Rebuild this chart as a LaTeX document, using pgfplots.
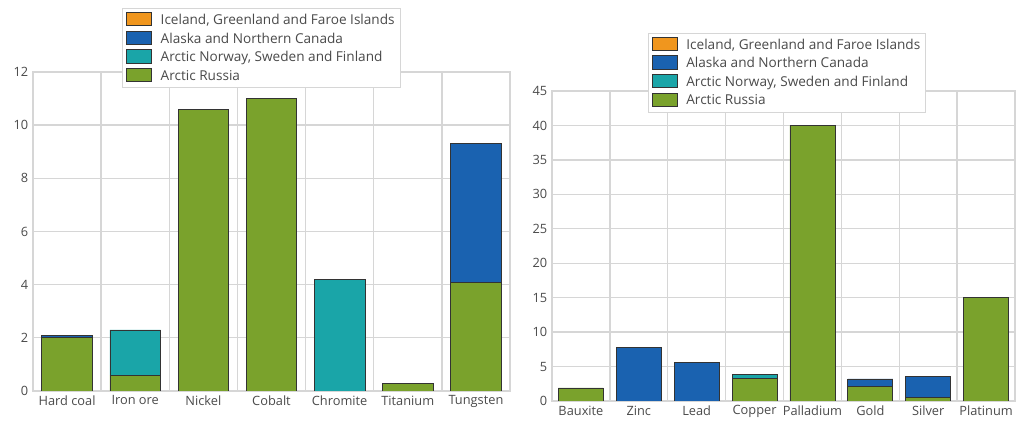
\documentclass[border=0pt]{standalone}
\usepackage{fontspec}
\setmainfont{Open Sans}
\usepackage{pgfplots}
\usepackage{pgfplotstable}
\pgfplotsset{compat=1.18}
\definecolor{cIce}{HTML}{F0961E}
\definecolor{cAla}{HTML}{1A62B0}
\definecolor{cNor}{HTML}{1AA5A8}
\definecolor{cRus}{HTML}{7AA22C}
\definecolor{edge}{HTML}{333333}
\definecolor{gridc}{HTML}{D6D6D6}
\definecolor{txt}{HTML}{4A4A4A}

\pgfplotstableread{
x rus nor ala
0 2.0 0 0.1
1 0.6 1.7 0
2 10.6 0 0
3 11.0 0 0
4 0 4.2 0
5 0.3 0 0
6 4.1 0 5.2
}\lefttab

\pgfplotstableread{
x rus nor ala
0 1.9 0 0
1 0 0 7.8
2 0 0 5.6
3 3.3 0.5 0
4 40 0 0
5 2.1 0 1.1
6 0.5 0 3.1
7 15 0 0
}\righttab

\pgfplotsset{
  mychart/.style={
    scale only axis,
    ybar stacked,
    ymin=0,
    axis line style={gridc, line width=1pt},
    ymajorgrids, xminorgrids,
    grid style={gridc, line width=1pt},
    minor grid style={gridc, line width=1pt},
    major tick length=0pt, minor tick length=0pt,
    tick style={draw=none},
    xtick=data,
    ticklabel style={font=\fontsize{9.6}{10}\selectfont, text=txt},
    /pgf/number format/assume math mode=true,
    every axis plot/.append style={draw=edge, line width=0.5pt},
    legend image code/.code={\draw[#1,draw=edge,line width=0.5pt] (0pt,-4pt) rectangle (19pt,6pt);},
    legend cell align=left,
    legend style={draw=gridc, fill=white, line width=0.6pt, font=\fontsize{10.2}{11}\selectfont, text=txt,
      row sep=1.5pt, column sep=5pt, inner sep=2.5pt, nodes={inner sep=1.6pt}},
  }
}

\begin{document}
\begin{tikzpicture}
\useasboundingbox (0,0) rectangle (767.25pt,317.25pt);
\begin{axis}[mychart,
  at={(24.75pt,24pt)}, anchor=south west,
  width=357.75pt, height=239.25pt,
  xmin=-0.5, xmax=6.5, ymax=12,
  ytick={0,2,...,12},
  minor xtick={0.5,1.5,...,5.5},
  xticklabels={Hard coal,Iron ore,Nickel,Cobalt,Chromite,Titanium,Tungsten},
  bar width=38pt,
  legend style={at={(0.187,1.2)}, anchor=north west},
]
\addlegendimage{fill=cIce}
\addlegendimage{fill=cAla}
\addlegendimage{fill=cNor}
\addlegendimage{fill=cRus}
\addplot[fill=cRus, forget plot] table[x=x,y=rus]{\lefttab};
\addplot[fill=cNor, forget plot] table[x=x,y=nor]{\lefttab};
\addplot[fill=cAla, forget plot] table[x=x,y=ala]{\lefttab};
\legend{{Iceland, Greenland and Faroe Islands},{Alaska and Northern Canada},{Arctic Norway, Sweden and Finland},{Arctic Russia}}
\node[anchor=west, font=\fontsize{9.8}{10}\selectfont, text=txt, inner sep=0pt] at (rel axis cs:-0.048,1.085) {Per cent};
\end{axis}
\begin{axis}[mychart,
  at={(414pt,16.5pt)}, anchor=south west,
  width=347.25pt, height=232.5pt,
  xmin=-0.5, xmax=7.5, ymax=45,
  ytick={0,5,...,45},
  minor xtick={0.5,1.5,...,6.5},
  xticklabels={Bauxite,Zinc,Lead,Copper,Palladium,Gold,Silver,Platinum},
  bar width=33.75pt,
  legend style={at={(0.207,1.187)}, anchor=north west},
]
\addlegendimage{fill=cIce}
\addlegendimage{fill=cAla}
\addlegendimage{fill=cNor}
\addlegendimage{fill=cRus}
\addplot[fill=cRus, forget plot] table[x=x,y=rus]{\righttab};
\addplot[fill=cNor, forget plot] table[x=x,y=nor]{\righttab};
\addplot[fill=cAla, forget plot] table[x=x,y=ala]{\righttab};
\legend{{Iceland, Greenland and Faroe Islands},{Alaska and Northern Canada},{Arctic Norway, Sweden and Finland},{Arctic Russia}}
\node[anchor=west, font=\fontsize{9.8}{10}\selectfont, text=txt, inner sep=0pt] at (rel axis cs:-0.054,1.052) {Per cent};
\end{axis}
\end{tikzpicture}
\end{document}
